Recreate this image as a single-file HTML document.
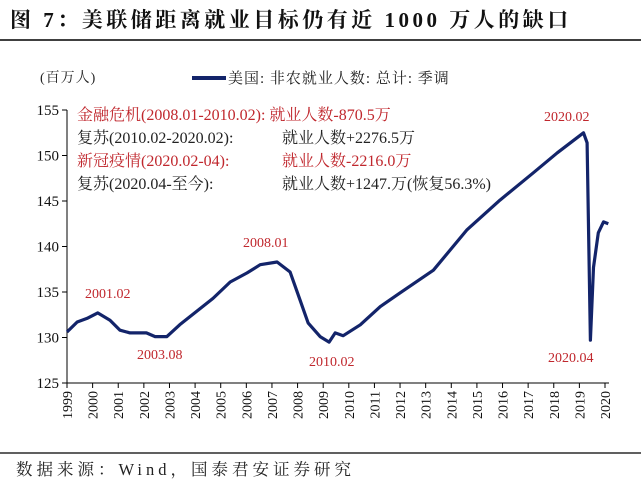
<!DOCTYPE html>
<html><head><meta charset="utf-8">
<style>
body{margin:0;background:#fff;width:641px;height:496px;overflow:hidden;font-family:"Liberation Serif","Noto Serif CJK SC",serif;}
svg text{font-family:"Liberation Serif","Noto Serif CJK SC",serif;}
</style></head>
<body>
<svg width="641" height="496" xmlns="http://www.w3.org/2000/svg">
<text x="10" y="27" font-size="21" font-weight="bold" letter-spacing="3.5" fill="#111">图 7：美联储距离就业目标仍有近 1000 万人的缺口</text>
<line x1="0" y1="40" x2="641" y2="40" stroke="#000" stroke-width="1.5"/>
<text x="40" y="82" font-size="14" letter-spacing="1" fill="#222">(百万人)</text>
<line x1="192" y1="78" x2="226" y2="78" stroke="#13246a" stroke-width="4"/>
<text x="228" y="83" font-size="15" letter-spacing="1" fill="#222">美国: 非农就业人数: 总计: 季调</text>
<g font-size="16">
<text x="77" y="120" fill="#c0272d">金融危机(2008.01-2010.02): 就业人数-870.5万</text>
<text x="77" y="143" fill="#222">复苏(2010.02-2020.02):</text>
<text x="282" y="143" fill="#222">就业人数+2276.5万</text>
<text x="77" y="166" fill="#c0272d">新冠疫情(2020.02-04):</text>
<text x="282" y="166" fill="#c0272d">就业人数-2216.0万</text>
<text x="77" y="189" fill="#222">复苏(2020.04-至今):</text>
<text x="282" y="189" fill="#222">就业人数+1247.万(恢复56.3%)</text>
</g>
<g id="axes"></g>
<g id="series"></g>
<g font-size="14" fill="#c0272d">
<text x="85" y="298">2001.02</text>
<text x="137" y="359">2003.08</text>
<text x="243" y="247">2008.01</text>
<text x="309" y="366">2010.02</text>
<text x="544" y="121">2020.02</text>
<text x="548" y="362">2020.04</text>
</g>
<line x1="0" y1="453" x2="641" y2="453" stroke="#000" stroke-width="1.2"/>
<text x="16" y="475" font-size="16.5" letter-spacing="4" fill="#222">数据来源：Wind，国泰君安证券研究</text>
</svg>
<script>
const yTicks=[125,130,135,140,145,150,155];
const xYears=[1999,2000,2001,2002,2003,2004,2005,2006,2007,2008,2009,2010,2011,2012,2013,2014,2015,2016,2017,2018,2019,2020];
const times=[1999.0,1999.4,1999.78,2000.2,2000.68,2001.07,2001.46,2002.1,2002.44,2002.9,2003.4,2004.7,2005.37,2006.03,2006.54,2007.2,2007.71,2008.1,2008.41,2008.88,2009.23,2009.47,2009.78,2010.45,2011.23,2012.0,2013.3,2014.6,2015.9,2017.2,2018.14,2019.16,2019.3,2019.43,2019.55,2019.74,2019.94,2020.13];
const values=[130.6,131.7,132.1,132.7,131.9,130.8,130.5,130.5,130.1,130.1,131.4,134.3,136.1,137.1,138.0,138.3,137.2,134.1,131.6,130.1,129.5,130.5,130.2,131.4,133.4,134.9,137.4,141.8,145.1,148.1,150.3,152.5,151.4,129.7,137.7,141.5,142.7,142.5];
const NS='http://www.w3.org/2000/svg';
const X0=67,X1=605,Y0=383,YPU=9.1;
function xs(t){return X0+(t-1999)*(X1-X0)/21;}
function ys(v){return Y0-(v-125)*YPU;}
const axes=document.getElementById('axes');
function mk(tag,attrs,parent){const e=document.createElementNS(NS,tag);for(const k in attrs)e.setAttribute(k,attrs[k]);parent.appendChild(e);return e;}
let yl=mk('line',{x1:X0,y1:ys(125),x2:X0,y2:ys(155),stroke:'#000','stroke-width':1},axes);


let xl=mk('line',{x1:X0,y1:Y0,x2:609,y2:Y0,stroke:'#000','stroke-width':1},axes);


yTicks.forEach(v=>{
  const tk=mk('line',{x1:X0-5,y1:ys(v),x2:X0,y2:ys(v),stroke:'#000'},axes);
  
  
  const t=mk('text',{x:X0-8,y:ys(v)+5,'text-anchor':'end','font-size':15,fill:'#111'},axes);
  t.textContent=v;
  
  
});
xYears.forEach(yr=>{
  const x=xs(yr);
  const tk=mk('line',{x1:x,y1:Y0,x2:x,y2:Y0+5,stroke:'#000'},axes);
  
  
  const t=mk('text',{x:0,y:0,'text-anchor':'end','font-size':14,fill:'#111',transform:`translate(${x+5},${Y0+8}) rotate(-90)`},axes);
  t.textContent=yr;
  
  
});
const d=times.map((t,i)=>(i?'L':'M')+xs(t).toFixed(1)+','+ys(values[i]).toFixed(1)).join(' ');
const path=mk('path',{d:d,fill:'none',stroke:'#13246a','stroke-width':3.2,'stroke-linejoin':'round'},document.getElementById('series'));


</script>
</body></html>
